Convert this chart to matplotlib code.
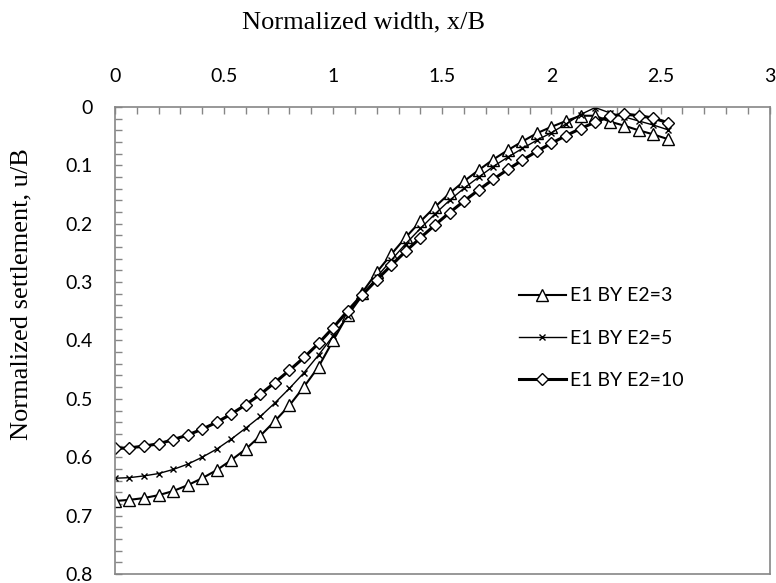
import matplotlib
matplotlib.use('Agg')
import matplotlib.pyplot as plt
from matplotlib.ticker import MultipleLocator, FuncFormatter

# x/B sampling positions (same for all three runs)
x_b = [0.0, 0.067, 0.133, 0.2, 0.267, 0.333, 0.4, 0.467, 0.533, 0.6,
       0.667, 0.733, 0.8, 0.867, 0.933, 1.0, 1.067, 1.133, 1.2, 1.267,
       1.333, 1.4, 1.467, 1.533, 1.6, 1.667, 1.733, 1.8, 1.867, 1.933,
       2.0, 2.067, 2.133, 2.2, 2.267, 2.333, 2.4, 2.467, 2.533]

# normalized settlement u/B
u_e3 = [0.675, 0.673, 0.670, 0.665, 0.658, 0.648, 0.636, 0.622, 0.605, 0.586,
        0.563, 0.538, 0.511, 0.479, 0.445, 0.400, 0.356, 0.318, 0.283, 0.252,
        0.223, 0.196, 0.171, 0.148, 0.127, 0.108, 0.090, 0.074, 0.059, 0.045,
        0.034, 0.024, 0.015, 0.015, 0.025, 0.032, 0.040, 0.047, 0.055]
u_e5 = [0.636, 0.635, 0.632, 0.628, 0.621, 0.612, 0.600, 0.586, 0.569, 0.550,
        0.530, 0.507, 0.482, 0.455, 0.425, 0.392, 0.358, 0.324, 0.291, 0.262,
        0.234, 0.208, 0.183, 0.160, 0.139, 0.120, 0.102, 0.086, 0.071, 0.057,
        0.044, 0.029, 0.013, 0.001, 0.010, 0.017, 0.024, 0.031, 0.039]
u_e10 = [0.585, 0.584, 0.581, 0.577, 0.570, 0.562, 0.552, 0.540, 0.526, 0.510,
         0.492, 0.472, 0.451, 0.429, 0.405, 0.378, 0.349, 0.322, 0.296, 0.271,
         0.247, 0.224, 0.202, 0.181, 0.161, 0.142, 0.124, 0.107, 0.091, 0.076,
         0.062, 0.049, 0.037, 0.026, 0.016, 0.012, 0.015, 0.019, 0.027]

labels = ['E1 BY E2=3', 'E1 BY E2=5', 'E1 BY E2=10']

tick_font = 'Lato'          # stand-in for Calibri
label_font = 'Liberation Serif'

fig = plt.figure(figsize=(7.76, 5.83), dpi=100)
ax = fig.add_axes([0.148, 0.0155, 0.844, 0.801])

ax.plot(x_b, u_e3, color='black', lw=1.5, marker='^', ms=8,
        mfc='white', mec='black', mew=1.0, label=labels[0])
ax.plot(x_b, u_e5, color='black', lw=1.0, marker='x', ms=5,
        mec='black', mew=1.0, label=labels[1])
ax.plot(x_b, u_e10, color='black', lw=2.2, marker='D', ms=6,
        mfc='white', mec='black', mew=1.0, label=labels[2])

ax.set_xlim(0, 3)
ax.set_ylim(0.8, 0)

ax.xaxis.tick_top()
ax.xaxis.set_label_position('top')
ax.xaxis.set_major_locator(MultipleLocator(0.5))
ax.xaxis.set_minor_locator(MultipleLocator(0.1))
ax.yaxis.set_major_locator(MultipleLocator(0.1))
ax.yaxis.set_minor_locator(MultipleLocator(0.02))
ax.xaxis.set_major_formatter(FuncFormatter(lambda v, p: f'{v:g}'))
ax.yaxis.set_major_formatter(FuncFormatter(lambda v, p: f'{v:g}'))

ax.tick_params(axis='both', which='both', direction='in', color='#868686',
               width=1.0)
ax.tick_params(axis='both', which='major', length=5, labelsize=14, pad=16,
               labelfontfamily=tick_font)
ax.tick_params(axis='both', which='minor', length=5)

for sp in ax.spines.values():
    sp.set_color('#868686')
    sp.set_linewidth(1.2)

ax.set_xlabel('Normalized width, x/B', fontfamily=label_font, fontsize=19,
              va='center')
ax.xaxis.set_label_coords(0.379, 1.18)
ax.set_ylabel('Normalized settlement, u/B', fontfamily=label_font,
              fontsize=19, va='center')
ax.yaxis.set_label_coords(-0.142, 0.60)

ax.legend(loc='center left', bbox_to_anchor=(0.617, 0.505), frameon=False,
          prop={'family': tick_font, 'size': 14}, handlelength=2.4,
          handletextpad=0.2, labelspacing=1.3, borderpad=0,
          borderaxespad=0)

fig.savefig('out.png', dpi=100)
